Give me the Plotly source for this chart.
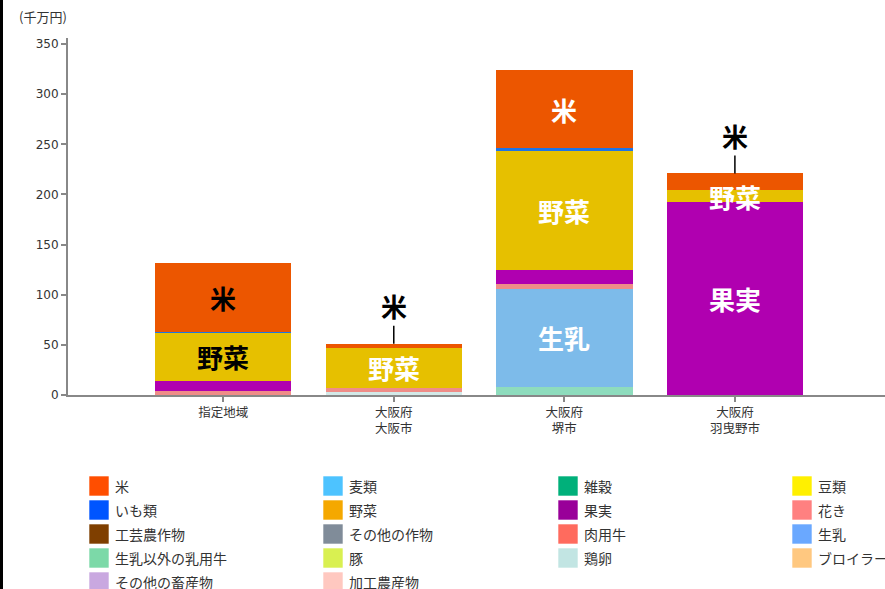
import plotly.graph_objects as go

# categories (x) and stacked values in 千万円, bottom to top
categories = ["指定地域", "大阪府<br>大阪市", "大阪府<br>堺市", "大阪府<br>羽曳野市"]

keiran = [0, 3, 0, 0]          # 鶏卵
nyuyogyu = [0, 0, 8, 0]        # 生乳以外の乳用牛
seinyu = [0, 0, 98, 0]         # 生乳
kaki = [4, 4, 5, 0]            # 花き
kajitsu = [10, 0, 14, 192]     # 果実
yasai = [48, 40, 118, 12]      # 野菜
imorui = [1, 0, 3, 0]          # いも類
kome = [69, 4, 78, 17]         # 米

stack = [
    ("鶏卵", keiran, "#d3e9e8"),
    ("生乳以外の乳用牛", nyuyogyu, "#8edcbd"),
    ("生乳", seinyu, "#7dbbea"),
    ("花き", kaki, "#ef8d88"),
    ("果実", kajitsu, "#b000b0"),
    ("野菜", yasai, "#e6c000"),
    ("いも類", imorui, "#1e74e6"),
    ("米", kome, "#ec5600"),
]

# legend entries, row-major in a 4-column grid
legend_names = ["米", "麦類", "雑穀", "豆類",
                "いも類", "野菜", "果実", "花き",
                "工芸農作物", "その他の作物", "肉用牛", "生乳",
                "生乳以外の乳用牛", "豚", "鶏卵", "ブロイラー",
                "その他の畜産物", "加工農産物"]
legend_colors = ["#ff4e00", "#4dc3ff", "#00b07a", "#fff000",
                 "#0055ff", "#f5a800", "#990099", "#ff8080",
                 "#7f3f00", "#808c99", "#ff6b5e", "#6aa8ff",
                 "#7cd9a8", "#d9f051", "#c2e5e3", "#ffc880",
                 "#c9a8e0", "#ffc8c0"]

# segment labels: (item, category index, colour, outside with leader)
labels = [
    ("米", 0, "black", False), ("野菜", 0, "black", False),
    ("米", 1, "black", True), ("野菜", 1, "white", False),
    ("米", 2, "white", False), ("野菜", 2, "white", False), ("生乳", 2, "white", False),
    ("米", 3, "black", True), ("野菜", 3, "white", False), ("果実", 3, "white", False),
]

CJK = "Noto Sans CJK JP"
W, H = 885, 589
ML, MT, MB, MR = 68, 38, 194, 0
pw, ph = W - ML - MR, H - MT - MB

fig = go.Figure()
for name, vals, col in stack:
    fig.add_trace(go.Bar(
        x=list(range(len(categories))), y=vals, name=name,
        marker=dict(color=col, line=dict(width=0)),
        showlegend=False, hoverinfo="x+y+name",
    ))

# labels on segments
bases = {}
run = [0] * len(categories)
for name, vals, _ in stack:
    bases[name] = list(run)
    run = [r + v for r, v in zip(run, vals)]
totals = run
vals_by = {name: vals for name, vals, _ in stack}

ann = []
for item, ci, col, outside in labels:
    if outside:
        ann.append(dict(
            x=ci, y=totals[ci], xref="x", yref="y", text=item,
            showarrow=True, arrowhead=0, arrowwidth=1.5, arrowcolor="black",
            ax=0, ay=-38, font=dict(family=CJK, size=26, color=col, weight=700),
        ))
    else:
        mid = bases[item][ci] + vals_by[item][ci] / 2
        ann.append(dict(
            x=ci, y=mid, xref="x", yref="y", text=item, showarrow=False,
            font=dict(family=CJK, size=26, color=col, weight=700),
        ))

# unit label
ann.append(dict(
    x=(17 - ML) / pw, y=(H - MB - 17) / ph, xref="paper", yref="paper",
    text="(千万円)", showarrow=False, xanchor="left", yanchor="middle",
    font=dict(family=CJK, size=13, color="#333"),
))

# legend grid drawn below the plot
shapes = []
col_x = [89, 323, 558, 792]
row_y0 = 476
for i, (name, col) in enumerate(zip(legend_names, legend_colors)):
    r, c = divmod(i, 4)
    x0 = col_x[c]
    y0 = row_y0 + r * 24
    shapes.append(dict(
        type="rect", xref="paper", yref="paper",
        x0=(x0 - ML) / pw, x1=(x0 + 20 - ML) / pw,
        y0=(H - MB - y0) / ph, y1=(H - MB - y0 - 20) / ph,
        fillcolor=col, line=dict(color="rgba(255,255,255,0.6)", width=1),
    ))
    ann.append(dict(
        x=(x0 + 24 - ML) / pw, y=(H - MB - y0 - 10) / ph, xref="paper", yref="paper",
        text=name, showarrow=False, xanchor="left", yanchor="middle",
        font=dict(family=CJK, size=14, color="#333"),
    ))

# dark strip at the left edge
shapes.append(dict(
    type="rect", xref="paper", yref="paper",
    x0=-ML / pw, x1=(3 - ML) / pw, y0=-MB / ph, y1=(ph + MT) / ph,
    fillcolor="black", line=dict(width=0),
))

fig.update_layout(
    width=W, height=H,
    margin=dict(l=ML, r=MR, t=MT, b=MB),
    barmode="stack", bargap=0.2,
    plot_bgcolor="white", paper_bgcolor="white",
    annotations=ann, shapes=shapes,
    font=dict(family=CJK, color="#333"),
)
fig.update_xaxes(
    range=[-0.91, 3.88], tickmode="array",
    tickvals=list(range(len(categories))), ticktext=categories,
    showgrid=False, zeroline=False,
    showline=True, linecolor="#888", linewidth=2,
    ticks="outside", ticklen=5, tickcolor="#888", tickwidth=1.5,
    tickfont=dict(family=CJK, size=12.5, color="#333"),
)
fig.update_yaxes(
    range=[0, 356], tickvals=[0, 50, 100, 150, 200, 250, 300, 350],
    showgrid=False, zeroline=False,
    showline=True, linecolor="#888", linewidth=2,
    ticks="outside", ticklen=5, tickcolor="#888", tickwidth=1.5,
    tickfont=dict(family="DejaVu Sans", size=12, color="#333"),
)

# page margin off so the figure sits at the window's top-left corner
fig.write_html(
    "out.html",
    config={"displayModeBar": False},
    post_script="document.body.style.margin='0';",
)
